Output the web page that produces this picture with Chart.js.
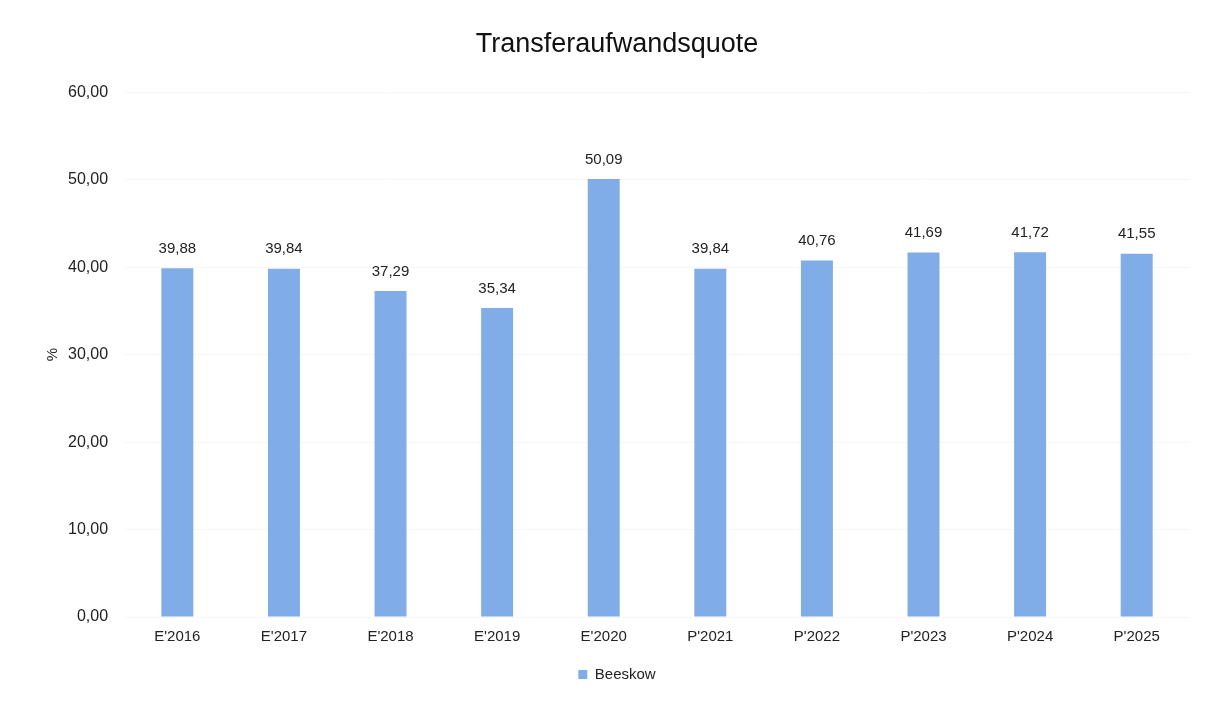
<!DOCTYPE html>
<html>
<head>
<meta charset="utf-8">
<script src="https://cdn.jsdelivr.net/npm/chart.js@4"></script>
<style>
  html, body { margin: 0; padding: 0; background: #fff; }
  #wrap { width: 1218px; height: 703px; }
</style>
</head>
<body>
<div id="wrap"><canvas id="myChart" width="1218" height="703"></canvas></div>
<script>
// data
const years = ["E'2016", "E'2017", "E'2018", "E'2019", "E'2020", "P'2021", "P'2022", "P'2023", "P'2024", "P'2025"];
const beeskow = [39.88, 39.84, 37.29, 35.34, 50.09, 39.84, 40.76, 41.69, 41.72, 41.55];

const FONT = '"Liberation Sans", Arial, sans-serif';

function fmt(v) {
  return v.toFixed(2).replace('.', ',');
}

// draws the value above every bar
const valueLabels = {
  id: 'valueLabels',
  afterDatasetsDraw(chart) {
    const ctx = chart.ctx;
    ctx.save();
    ctx.font = '15px ' + FONT;
    ctx.fillStyle = '#222';
    ctx.textAlign = 'center';
    ctx.textBaseline = 'bottom';
    chart.getDatasetMeta(0).data.forEach(function (bar, i) {
      ctx.fillText(fmt(beeskow[i]), bar.x, bar.y - 12);
    });
    ctx.restore();
  }
};

const ctx = document.getElementById('myChart').getContext('2d');
const myChart = new Chart(ctx, {
  type: 'bar',
  data: {
    labels: years,
    datasets: [{
      label: 'Beeskow',
      data: beeskow,
      backgroundColor: 'rgb(128, 172, 232)',
      borderWidth: 0,
      barPercentage: 0.6,
      categoryPercentage: 0.5
    }]
  },
  options: {
    responsive: false,
    animation: false,
    layout: {
      padding: { left: 44, right: 28, top: 18, bottom: 11 }
    },
    scales: {
      x: {
        grid: { display: false },
        border: { display: false },
        ticks: {
          color: '#222',
          font: { family: FONT, size: 15 },
          padding: 3
        }
      },
      y: {
        min: 0,
        max: 60,
        grid: { color: 'rgba(0,0,0,0.03)', drawTicks: false },
        border: { display: false },
        ticks: {
          stepSize: 10,
          color: '#222',
          padding: 16,
          font: { family: FONT, size: 16 },
          callback: function (v) { return fmt(v); }
        },
        title: {
          display: true,
          text: '%',
          color: '#222',
          padding: { top: 0, bottom: -10 },
          font: { family: FONT, size: 15 }
        }
      }
    },
    plugins: {
      title: {
        display: true,
        text: 'Transferaufwandsquote',
        color: '#111',
        font: { family: FONT, size: 27, weight: 'normal' },
        padding: { top: 10, bottom: 32 }
      },
      legend: {
        position: 'bottom',
        labels: {
          color: '#222',
          boxWidth: 9,
          boxHeight: 9,
          padding: 18,
          font: { family: FONT, size: 15 }
        }
      },
      tooltip: { enabled: false }
    }
  },
  plugins: [valueLabels]
});
</script>
</body>
</html>
